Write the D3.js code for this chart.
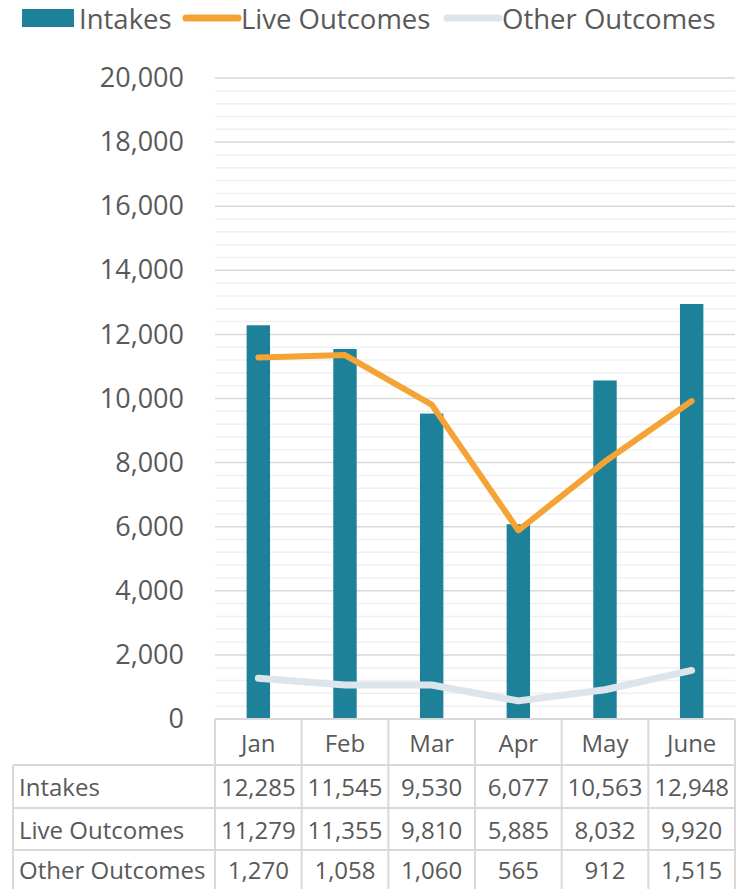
<!DOCTYPE html>
<html>
<head>
<meta charset="utf-8">
<script src="https://cdn.jsdelivr.net/npm/d3@7"></script>
<style>
  body { margin: 0; background: #fff; }
  svg { display: block; font-family: "Open Sans", sans-serif; }
</style>
</head>
<body>
<div id="chart"></div>
<script>
// ---------- data ----------
const months = ["Jan", "Feb", "Mar", "Apr", "May", "June"];
const intakes = [12285, 11545, 9530, 6077, 10563, 12948];
const liveOutcomes = [11279, 11355, 9810, 5885, 8032, 9920];
const otherOutcomes = [1270, 1058, 1060, 565, 912, 1515];
const yTicks = [0, 2000, 4000, 6000, 8000, 10000, 12000, 14000, 16000, 18000, 20000];

const rows = [
  {name: "Intakes", values: intakes},
  {name: "Live Outcomes", values: liveOutcomes},
  {name: "Other Outcomes", values: otherOutcomes}
];

// ---------- layout ----------
const width = 742, height = 889;
const plotLeft = 215, plotRight = 735, plotTop = 78, plotBottom = 719;
const tableLeft = 13;
const rowEdges = [719, 765, 808, 850, 893];
const textCol = "#595959";
const gridMajor = "#d9d9d9", gridMinor = "#f0f0f0";
const teal = "#1c8199", orange = "#f5a335", pale = "#dde5ec";

const svg = d3.select("#chart").append("svg")
  .attr("width", width)
  .attr("height", height);

const x = d3.scaleBand().domain(months).range([plotLeft, plotRight]).padding(0);
const y = d3.scaleLinear().domain([0, 20000]).range([plotBottom, plotTop]);
const fmt = d3.format(",");

// minor gridlines
svg.append("g").selectAll("line")
  .data(d3.range(400, 20001, 400).filter(v => v % 2000 !== 0))
  .join("line")
  .attr("x1", plotLeft).attr("x2", plotRight)
  .attr("y1", d => y(d)).attr("y2", d => y(d))
  .attr("stroke", gridMinor).attr("stroke-width", 1.5);

// major gridlines
svg.append("g").selectAll("line")
  .data(yTicks.filter(v => v > 0))
  .join("line")
  .attr("x1", plotLeft).attr("x2", plotRight)
  .attr("y1", d => y(d)).attr("y2", d => y(d))
  .attr("stroke", gridMajor).attr("stroke-width", 1.5);

// y axis labels
const yAxis = d3.axisLeft(y).tickValues(yTicks).tickFormat(fmt).tickSize(0).tickPadding(0);
const gy = svg.append("g").attr("transform", `translate(${plotLeft - 31},0)`).call(yAxis);
gy.select(".domain").remove();
gy.selectAll("text")
  .attr("fill", textCol)
  .style("font-size", "27px")
  .style("font-family", "'Open Sans', sans-serif");

// bars
const barW = x.bandwidth() * 0.27;
svg.append("g").selectAll("rect")
  .data(intakes)
  .join("rect")
  .attr("x", (d, i) => x(months[i]) + (x.bandwidth() - barW) / 2)
  .attr("width", barW)
  .attr("y", d => y(d))
  .attr("height", d => y(0) - y(d))
  .attr("fill", teal);

// lines
const line = d3.line()
  .x((d, i) => x(months[i]) + x.bandwidth() / 2)
  .y(d => y(d));

svg.append("path")
  .datum(otherOutcomes)
  .attr("d", line)
  .attr("fill", "none")
  .attr("stroke", pale)
  .attr("stroke-width", 7)
  .attr("stroke-linecap", "round")
  .attr("stroke-linejoin", "round");

svg.append("path")
  .datum(liveOutcomes)
  .attr("d", line)
  .attr("fill", "none")
  .attr("stroke", orange)
  .attr("stroke-width", 6)
  .attr("stroke-linecap", "round")
  .attr("stroke-linejoin", "round");

// ---------- data table ----------
const table = svg.append("g");

// horizontal borders
rowEdges.forEach((ry, i) => {
  table.append("line")
    .attr("x1", i === 0 ? plotLeft : tableLeft).attr("x2", plotRight)
    .attr("y1", ry).attr("y2", ry)
    .attr("stroke", gridMajor).attr("stroke-width", 2);
});

// vertical borders
months.forEach((m, i) => {
  table.append("line")
    .attr("x1", x(m)).attr("x2", x(m))
    .attr("y1", rowEdges[0]).attr("y2", height)
    .attr("stroke", gridMajor).attr("stroke-width", 2);
});
table.append("line")
  .attr("x1", plotRight).attr("x2", plotRight)
  .attr("y1", rowEdges[0]).attr("y2", height)
  .attr("stroke", gridMajor).attr("stroke-width", 2);
table.append("line")
  .attr("x1", tableLeft).attr("x2", tableLeft)
  .attr("y1", rowEdges[1]).attr("y2", height)
  .attr("stroke", gridMajor).attr("stroke-width", 2);

// category labels
table.selectAll("text.cat")
  .data(months)
  .join("text")
  .attr("class", "cat")
  .attr("x", d => x(d) + x.bandwidth() / 2)
  .attr("y", (rowEdges[0] + rowEdges[1]) / 2)
  .attr("text-anchor", "middle")
  .attr("dominant-baseline", "central")
  .attr("fill", textCol)
  .style("font-size", "24px")
  .text(d => d);

rows.forEach((r, ri) => {
  const cy = (rowEdges[ri + 1] + Math.min(rowEdges[ri + 2], 889)) / 2;
  table.append("text")
    .attr("x", tableLeft + 6)
    .attr("y", cy)
    .attr("dominant-baseline", "central")
    .attr("fill", textCol)
    .style("font-size", "24px")
    .text(r.name);
  table.selectAll(null)
    .data(r.values)
    .join("text")
    .attr("x", (d, i) => x(months[i]) + x.bandwidth() / 2)
    .attr("y", cy)
    .attr("text-anchor", "middle")
    .attr("dominant-baseline", "central")
    .attr("fill", textCol)
    .style("font-size", "24px")
    .text(d => fmt(d));
});

// ---------- legend ----------
const legend = svg.append("g").style("font-size", "27.5px");
legend.append("rect")
  .attr("x", 22).attr("y", 9).attr("width", 52).attr("height", 18)
  .attr("fill", teal);
legend.append("text").attr("x", 79).attr("y", 18)
  .attr("dominant-baseline", "central").attr("fill", textCol).text("Intakes");
legend.append("line")
  .attr("x1", 186).attr("x2", 238).attr("y1", 18).attr("y2", 18)
  .attr("stroke", orange).attr("stroke-width", 7).attr("stroke-linecap", "round");
legend.append("text").attr("x", 241).attr("y", 18)
  .attr("dominant-baseline", "central").attr("fill", textCol).text("Live Outcomes");
legend.append("line")
  .attr("x1", 447).attr("x2", 499).attr("y1", 18).attr("y2", 18)
  .attr("stroke", pale).attr("stroke-width", 7).attr("stroke-linecap", "round");
legend.append("text").attr("x", 502).attr("y", 18)
  .attr("dominant-baseline", "central").attr("fill", textCol).text("Other Outcomes");
</script>
</body>
</html>
